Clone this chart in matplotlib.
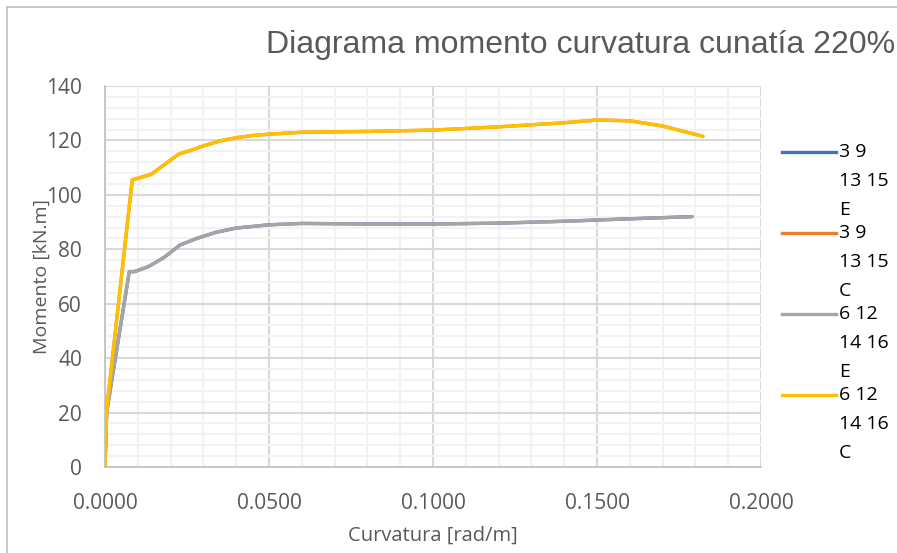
import numpy as np
import matplotlib
matplotlib.use("Agg")
import matplotlib.pyplot as plt
from matplotlib.ticker import MultipleLocator, FormatStrFormatter
from matplotlib.patches import Rectangle
from matplotlib.lines import Line2D

# curvature [rad/m] / moment [kN.m]
curv_e = [0.0, 0.0005, 0.0074, 0.0090, 0.0132, 0.0180, 0.0229, 0.0280, 0.0340, 0.0400,
          0.0500, 0.0600, 0.0800, 0.1000, 0.1200, 0.1400, 0.1600, 0.1790]
mom_e = [0.0, 20.0, 71.8, 71.8, 73.6, 77.0, 81.6, 84.0, 86.3, 87.8,
         89.0, 89.5, 89.3, 89.3, 89.6, 90.3, 91.2, 92.0]

curv_c = [0.0, 0.0005, 0.0083, 0.0140, 0.0180, 0.0225, 0.0260, 0.0300, 0.0350, 0.0400,
          0.0450, 0.0500, 0.0600, 0.0800, 0.1000, 0.1200, 0.1400, 0.1500, 0.1600,
          0.1700, 0.1823]
mom_c = [0.0, 21.0, 105.5, 107.5, 111.0, 115.0, 116.3, 118.0, 119.8, 121.0,
         121.8, 122.3, 123.0, 123.3, 123.8, 125.0, 126.5, 127.5, 127.2,
         125.3, 121.5]

labels = ["3 9\n13 15\nE", "3 9\n13 15\nC", "6 12\n14 16\nE", "6 12\n14 16\nC"]
colors = ["#4472C4", "#ED7D31", "#A5A5A5", "#FFC000"]
series = [(curv_e, mom_e), (curv_c, mom_c), (curv_e, mom_e), (curv_c, mom_c)]

plt.rcParams["font.family"] = ["Open Sans", "DejaVu Sans"]
txt = "#595959"

fig = plt.figure(figsize=(8.97, 5.53), dpi=100)
ax = fig.add_axes([105 / 897, 1 - 467 / 553, (761 - 105) / 897, (467 - 86) / 553])

for (x, y), c in zip(series, colors):
    ax.plot(x, y, color=c, lw=2.4, solid_capstyle="round", solid_joinstyle="round", zorder=3)

ax.set_xlim(0, 0.2)
ax.set_ylim(0, 140)
ax.xaxis.set_major_locator(MultipleLocator(0.05))
ax.xaxis.set_minor_locator(MultipleLocator(0.01))
ax.yaxis.set_major_locator(MultipleLocator(20))
ax.yaxis.set_minor_locator(MultipleLocator(4))
ax.xaxis.set_major_formatter(FormatStrFormatter("%.4f"))
ax.grid(which="minor", color="#F2F2F2", lw=1.5, zorder=0)
ax.grid(which="major", color="#D9D9D9", lw=1.5, zorder=1)
ax.set_axisbelow(True)
for s in ["top", "right"]:
    ax.spines[s].set_visible(False)
for s in ["left", "bottom"]:
    ax.spines[s].set_color("#BFBFBF")
    ax.spines[s].set_linewidth(1.2)
ax.tick_params(which="both", length=0, labelsize=15, colors=txt)
ax.tick_params(axis="x", pad=19)
ax.tick_params(axis="y", pad=16.5)
ax.set_xlabel("Curvatura [rad/m]", fontsize=14.5, color=txt)
ax.set_ylabel("Momento [kN.m]", fontsize=14, color=txt)
ax.xaxis.set_label_coords(0.5, -(536 - 467) / 381)
ax.yaxis.set_label_coords(-(105 - 42) / 656, 0.5)
ax.xaxis.label.set_va("center")
ax.yaxis.label.set_va("center")

fig.text(0.998, 1 - 45 / 553, "Diagrama momento curvatura cunatía 220%",
         fontsize=23, color=txt, ha="right", va="center", family="Liberation Sans")

# legend drawn by hand: line sits on first text line
for i, (lab, c) in enumerate(zip(labels, colors)):
    yl = 152 + 81 * i
    fig.add_artist(Line2D([782 / 897, 836 / 897], [1 - yl / 553] * 2, color=c, lw=2.4,
                          transform=fig.transFigure))
    fig.text(839 / 897, 1 - (yl - 9) / 553, lab, fontsize=14, color="black",
             ha="left", va="top", linespacing=1.78)

fig.add_artist(Rectangle((7 / 897, -0.05), 1.1, 1 - 7 / 553 + 0.05, transform=fig.transFigure,
                         fill=False, edgecolor="#BFBFBF", lw=1.2))

fig.savefig("out.png", dpi=100)
